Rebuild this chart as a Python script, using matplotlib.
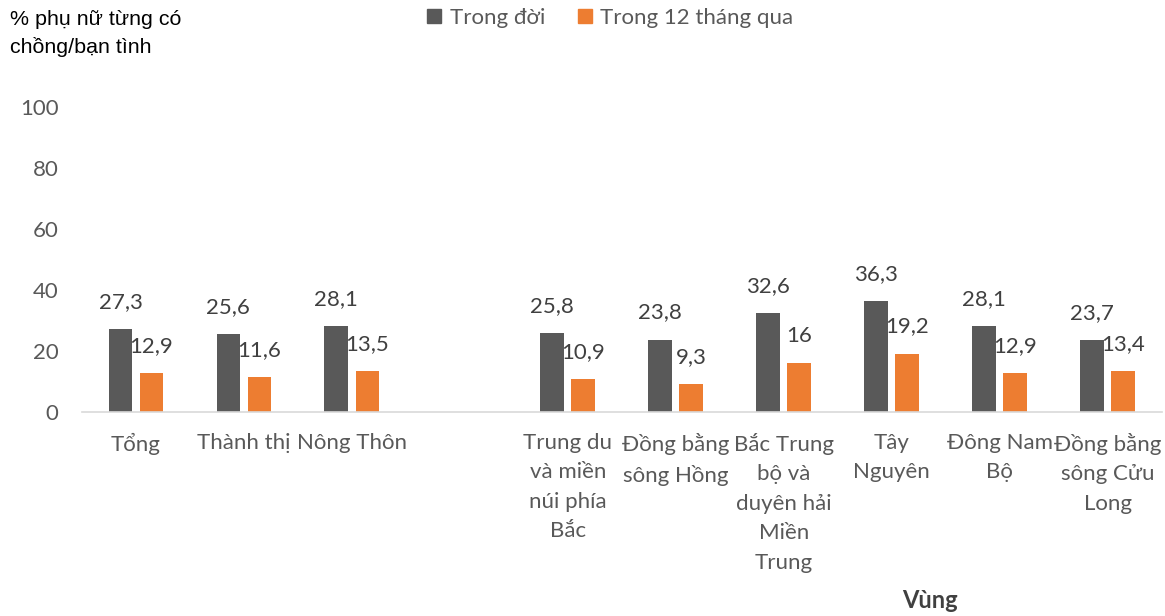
import matplotlib
matplotlib.use("Agg")
import matplotlib.pyplot as plt
from matplotlib.patches import Patch
import numpy as np

# du lieu
categories = ["Tổng", "Thành thị", "Nông Thôn", "",
              "Trung du\nvà miền\nnúi phía\nBắc", "Đồng bằng\nsông Hồng",
              "Bắc Trung\nbộ và\nduyên hải\nMiền\nTrung", "Tây\nNguyên",
              "Đông Nam\nBộ", "Đồng bằng\nsông Cửu\nLong"]
trong_doi = [27.3, 25.6, 28.1, None, 25.8, 23.8, 32.6, 36.3, 28.1, 23.7]
trong_12_thang = [12.9, 11.6, 13.5, None, 10.9, 9.3, 16, 19.2, 12.9, 13.4]
series_names = ["Trong đời", "Trong 12 tháng qua"]
yticks = [0, 20, 40, 60, 80, 100]

DARK = "#595959"
ORANGE = "#ED7D31"
GRAY = "#595959"
FONT = ["Lato", "DejaVu Sans"]

fig = plt.figure(figsize=(11.65, 6.16), dpi=100)
ax = fig.add_axes([0.0704, 0.331, 0.9266, 0.495])

x = np.arange(len(categories))
w = 0.22
off = 0.144

for vals, dx, col in [(trong_doi, -off, DARK), (trong_12_thang, off, ORANGE)]:
    xs = [xi + dx for xi, v in zip(x, vals) if v is not None]
    vs = [v for v in vals if v is not None]
    ax.bar(xs, vs, width=w, color=col)
    for xi, v in zip(xs, vs):
        lab = ("%g" % v).replace(".", ",")
        ax.annotate(lab, (xi, v), xytext=(0, 27), textcoords="offset pixels",
                    ha="center", va="center", fontsize=16, color="#404040",
                    family=FONT)

ax.set_xlim(-0.5, len(categories) - 0.5)
ax.set_ylim(0, 100)
ax.set_yticks(yticks)
ax.set_yticklabels([str(t) for t in yticks], family=FONT, fontsize=16, color=GRAY)
ax.tick_params(axis="y", length=0, pad=17)
ax.set_xticks(x)
ax.set_xticklabels(categories, family=FONT, fontsize=16, color=GRAY,
                   linespacing=1.59, va="top")
ax.tick_params(axis="x", length=0, pad=15)

for s in ["top", "right", "left"]:
    ax.spines[s].set_visible(False)
ax.spines["bottom"].set_color("#D9D9D9")
ax.spines["bottom"].set_linewidth(1.2)

fig.text(0.0086, 0.983, "% phụ nữ từng có\nchồng/bạn tình", ha="left", va="top",
         fontsize=15.4, family=["Liberation Sans", "DejaVu Sans"], color="black",
         linespacing=1.45)
fig.text(0.798, 0.025, "Vùng", ha="center", va="center", fontsize=17,
         fontweight="bold", family=FONT, color="#404040")

handles = [Patch(color=DARK, label=series_names[0]),
           Patch(color=ORANGE, label=series_names[1])]
fig.legend(handles=handles, loc="upper center", bbox_to_anchor=(0.524, 1.02),
           ncol=2, frameon=False, handlelength=0.6, handleheight=0.6,
           handletextpad=0.4, columnspacing=1.5,
           prop={"family": FONT, "size": 16}, labelcolor=GRAY)

fig.savefig("out.png", dpi=100)
